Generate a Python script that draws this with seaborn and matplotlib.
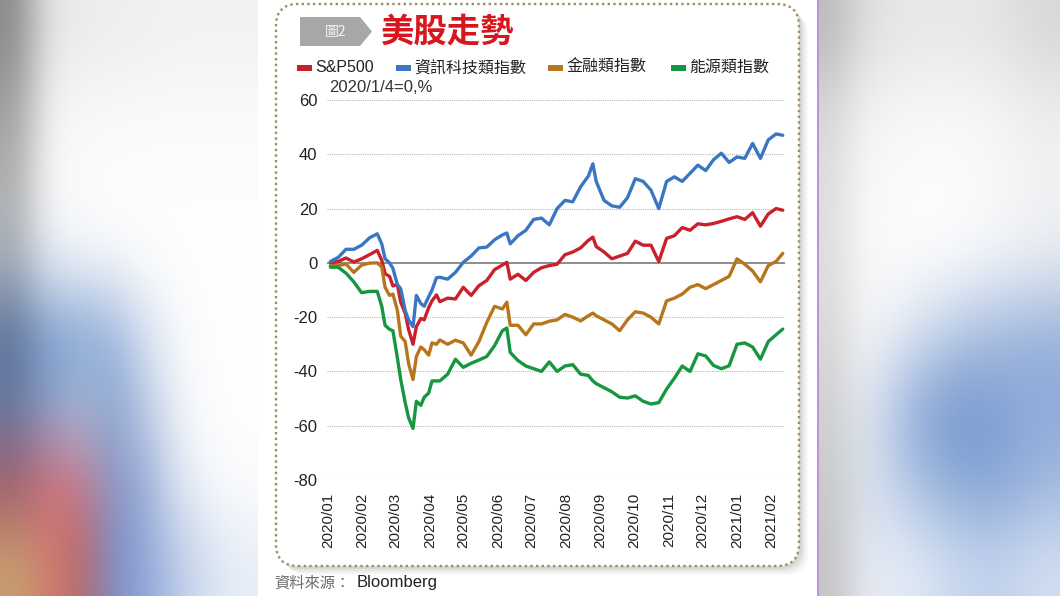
"""美股走勢 chart, recreated with seaborn."""
import matplotlib
matplotlib.use('Agg')
import matplotlib.pyplot as plt
import matplotlib.transforms as mtransforms
from matplotlib.colors import to_rgb
from matplotlib.patches import Rectangle, FancyBboxPatch, Polygon
import numpy as np
import pandas as pd
import seaborn as sns

W, H = 1060, 596

# weekly readings (extra points around the March crash)
dates = ['2020-01-03', '2020-01-10', '2020-01-17', '2020-01-24', '2020-01-31',
         '2020-02-07', '2020-02-14', '2020-02-18', '2020-02-21', '2020-02-25', '2020-02-28',
         '2020-03-03', '2020-03-06', '2020-03-10', '2020-03-13', '2020-03-17', '2020-03-20',
         '2020-03-24', '2020-03-27', '2020-03-31',
         '2020-04-03', '2020-04-07', '2020-04-10', '2020-04-17', '2020-04-24',
         '2020-05-01', '2020-05-08', '2020-05-15', '2020-05-22', '2020-05-29',
         '2020-06-05', '2020-06-09', '2020-06-12', '2020-06-19', '2020-06-26',
         '2020-07-03', '2020-07-10', '2020-07-17', '2020-07-24', '2020-07-31',
         '2020-08-07', '2020-08-14', '2020-08-21', '2020-08-25', '2020-08-28',
         '2020-09-04', '2020-09-11', '2020-09-18', '2020-09-25',
         '2020-10-02', '2020-10-09', '2020-10-16', '2020-10-23', '2020-10-30',
         '2020-11-06', '2020-11-13', '2020-11-20', '2020-11-27',
         '2020-12-04', '2020-12-11', '2020-12-18', '2020-12-25',
         '2021-01-01', '2021-01-08', '2021-01-15', '2021-01-22', '2021-01-29',
         '2021-02-05', '2021-02-11']

sp500 = [0, 0.5, 1.8, 0.3, 1.5,
         3, 4.6, 1, -4, -5, -8.5,
         -8, -14.5, -18.5, -24.5, -30, -23.5, -20.5, -21, -16.5,
         -14, -11.8, -14.3, -13, -13.3,
         -9, -12, -8.4, -6.5, -2.5,
         -0.8, 0.2, -6, -4.2, -6.5,
         -3.5, -1.8, -1, -0.5, 3,
         4, 5.5, 8.3, 9.5, 6,
         4, 1.5, 2.5, 3.5,
         8, 6.5, 6.5, 0.5, 9,
         10, 13, 12, 14.4,
         14, 14.5, 15.3, 16.2,
         17, 16, 18.5, 13.5, 18,
         20, 19.4]

tech = [0.5, 2, 5, 5, 6.5,
        9.2, 10.7, 7, 1.5, 0, -2,
        -8, -9.5, -17.6, -21, -23.5, -12, -15, -16, -12.5,
        -10, -5.5, -5.3, -6, -3.5,
        0.2, 2.5, 5.5, 5.8, 8.5,
        10.3, 11, 7, 10, 12,
        16, 16.5, 14, 20, 23,
        22.5, 28, 32, 36.5, 30,
        23, 21, 20.5, 24,
        31, 30, 26.8, 20, 30,
        31.7, 30, 33, 36,
        34, 38, 40.4, 37,
        39, 38.5, 44, 38.5, 45.3,
        47.5, 47]

finance = [-1, -1, -0.4, -3.5, -0.8,
           -0.1, 0, -1.5, -9, -12, -11.5,
           -17.5, -27, -29, -37, -43, -34.5, -31, -32, -34,
           -29.5, -30, -28.4, -30, -28.5,
           -29.5, -34, -29, -22, -16,
           -17, -14.5, -23, -23, -26.5,
           -22.5, -22.5, -21.5, -21, -19,
           -20, -21.4, -19.5, -18.5, -19.5,
           -21, -22.5, -25, -21,
           -18, -18.5, -20, -22.5, -14,
           -13, -11.5, -9, -8,
           -9.5, -8, -6.5, -5,
           1.5, -0.5, -3, -7, -1,
           0.5, 3.5]

energy = [-1.6, -1.6, -3.8, -7, -11,
          -10.5, -10.5, -16, -23, -24.5, -25,
          -35, -43, -51.5, -57, -61, -51, -52.5, -49.5, -48,
          -43.5, -43.5, -43.5, -41, -35.5,
          -38.5, -37, -35.8, -34.5, -30.5,
          -25, -24, -33, -36, -38,
          -39, -40, -36.5, -40, -38,
          -37.5, -41, -41.5, -43.5, -44.5,
          -46, -47.5, -49.5, -49.8,
          -49, -51, -52, -51.5, -46.5,
          -42.5, -38, -40, -33.5,
          -34.3, -37.8, -39, -37.9,
          -30, -29.5, -31, -35.5, -29,
          -26.5, -24.4]

series_names = ['S&P500', '資訊科技類指數', '金融類指數', '能源類指數']
series_colors = ['#c9202b', '#3b76c2', '#b8761c', '#16973f']
y_ticks = [-80, -60, -40, -20, 0, 20, 40, 60]
month_ticks = pd.date_range('2020-01-01', '2021-02-01', freq='MS')
tick_labels = [d.strftime('%Y/%m') for d in month_ticks]

# blurred photo behind the graphic (left / right strips)
left_bg = [['#8a8a8a', '#e4e4e4', '#ececec', '#eeeeee', '#f0f0f0', '#f2f2f2', '#f2f2f2', '#f2f2f2'],
           ['#a0a0a0', '#f4f4f4', '#f8f8f8', '#f9f9f9', '#fafafa', '#fafafa', '#fafafa', '#fafafa'],
           ['#b0b0b0', '#f8f8f8', '#fcfcfc', '#fdfdfd', '#fdfdfd', '#fdfdfd', '#fdfdfd', '#fdfdfd'],
           ['#a8b0bc', '#e8edf4', '#f2f5fa', '#f8f9fb', '#fdfdfd', '#fefefe', '#fefefe', '#fefefe'],
           ['#5a7098', '#7b9ccc', '#86a6d4', '#9ab4dc', '#d4e0f0', '#f6f8fb', '#fefefe', '#fefefe'],
           ['#6a7ca4', '#8aa4cc', '#a8bcdc', '#8ca8d2', '#b8c8e4', '#eef2f8', '#fdfdfd', '#fefefe'],
           ['#a05868', '#d06a78', '#c87888', '#8c94c4', '#98acd4', '#dce4f2', '#f6f8fb', '#fcfcfd'],
           ['#c8a070', '#d08070', '#b86868', '#7c8cc4', '#90a8d8', '#b8c8e6', '#d8e2f2', '#e8eef8']]
right_bg = [['#bcbcbc', '#dcdcdc', '#e6e6e6', '#e8e8e8', '#e8e8e8', '#e6e6e6', '#e0e0e0', '#d8d8d8'],
            ['#d8d8d8', '#f2f2f2', '#f6f6f6', '#f8f8f8', '#f8f8f8', '#f6f6f6', '#f2f2f2', '#eeeeee'],
            ['#dedede', '#f8f8f8', '#fbfbfb', '#fcfcfc', '#fcfcfc', '#fafafa', '#f6f6f6', '#f2f2f2'],
            ['#dedede', '#f8f8f8', '#fbfbfb', '#fcfcfc', '#fafbfc', '#f4f6f9', '#eef1f6', '#e8ecf3'],
            ['#d8d8d8', '#f2f3f5', '#e8edf5', '#d0dcee', '#b8cbe6', '#a8bee0', '#a0b8de', '#98b2da'],
            ['#d0d0d0', '#e0e6f0', '#b4c6e4', '#88a6d6', '#7898cc', '#7a9ad0', '#86a4d6', '#8eaad8'],
            ['#cacaca', '#d8e0ec', '#c4d2ea', '#a4bce0', '#8eacd8', '#88a6d6', '#90acd8', '#a0b8de'],
            ['#c4c4c4', '#e4e8f0', '#e6ecf6', '#dce6f4', '#ccdaf0', '#c4d4ee', '#c8d6ee', '#d2def2']]

sns.set_theme(style='white')
plt.rcParams['font.family'] = ['Liberation Sans', 'Noto Sans CJK TC', 'DejaVu Sans']
plt.rcParams['axes.unicode_minus'] = False

fig = plt.figure(figsize=(W / 100, H / 100), dpi=100)
fig.patch.set_facecolor('#f4f4f4')
px = mtransforms.IdentityTransform()


def fx(x):
    return x / W


def fy(y):
    return 1 - y / H


for arr, rect in ((left_bg, [0, 0, 258 / W, 1]), (right_bg, [818 / W, 0, 242 / W, 1])):
    bg = fig.add_axes(rect, zorder=0)
    bg.imshow(np.array([[to_rgb(c) for c in row] for row in arr]),
              aspect='auto', interpolation='bicubic')
    bg.axis('off')

# white page, purple edge, shadow and dotted rounded frame
fig.patches.append(Rectangle((258, 0), 560, H, transform=px, facecolor='white',
                             edgecolor='none', zorder=1))
fig.patches.append(Rectangle((817, 0), 1.5, H, transform=px, facecolor='#c58ee0',
                             edgecolor='none', zorder=1))
for off, a in ((9, 0.05), (7, 0.07), (5, 0.09), (3, 0.12)):
    fig.patches.append(FancyBboxPatch((276 + off, H - 566 - off), 523, 562,
                                      boxstyle='round,pad=0,rounding_size=22',
                                      transform=px, facecolor='#808080', alpha=a,
                                      edgecolor='none', zorder=1.1))
fig.patches.append(FancyBboxPatch((276, H - 566), 523, 562,
                                  boxstyle='round,pad=0,rounding_size=22',
                                  transform=px, facecolor='white', edgecolor='#a08c5c',
                                  linestyle=(0, (1, 1.4)), linewidth=1.7, zorder=1.2))

# title tag
fig.patches.append(Polygon([(300, H - 17), (360, H - 17), (372, H - 31.5),
                            (360, H - 46), (300, H - 46)], closed=True, transform=px,
                           facecolor='#a7a7a7', edgecolor='none', zorder=3))
fig.text(fx(336), fy(32), '圖2', fontsize=10, color='#f4f4f4', ha='center', va='center',
         family=['Noto Sans CJK TC'], zorder=4)
fig.text(fx(380), fy(32), '美股走勢', fontsize=24, fontweight='bold', color='#d7161d',
         ha='left', va='center', family=['Noto Sans CJK TC'], zorder=4)

# legend
legend_x = [297, 396, 548, 671]
for name, color, lx in zip(series_names, series_colors, legend_x):
    fig.patches.append(Rectangle((lx, H - 71), 15, 6.5, transform=px, facecolor=color,
                                 edgecolor='none', zorder=3))
    fig.text(fx(lx + 18), fy(67.5), name, fontsize=11.5, color='#222222',
             ha='left', va='center', zorder=4)

fig.text(fx(329), fy(88), '2020/1/4=0,%', fontsize=12, color='#333333',
         ha='left', va='center', zorder=4)

# main chart
frames = []
for name, vals in zip(series_names, [sp500, tech, finance, energy]):
    frames.append(pd.DataFrame({'date': pd.to_datetime(dates), 'value': vals,
                                'series': name}))
df = pd.concat(frames, ignore_index=True)

ax = fig.add_axes([fx(327), fy(480), 458 / W, 380 / H], zorder=5)
ax.set_facecolor('none')
ax.set_ylim(-80, 60)
ax.set_xlim(pd.Timestamp('2019-12-31'), pd.Timestamp('2021-02-13'))
for y in y_ticks:
    if y != 0:
        ax.axhline(y, color='#b8b8b8', linestyle=(0, (1, 1)), linewidth=0.8, zorder=1)
ax.axhline(0, color='#7a7a7a', linewidth=1.2, zorder=1)

sns.lineplot(data=df, x='date', y='value', hue='series', hue_order=series_names,
             palette=dict(zip(series_names, series_colors)), linewidth=2.4,
             legend=False, ax=ax, zorder=3)

ax.set_yticks(y_ticks)
ax.set_yticklabels([str(v) for v in y_ticks], fontsize=12, color='#222222')
ax.set_xticks(month_ticks)
ax.set_xticklabels(tick_labels, rotation=90, fontsize=11, color='#222222')
ax.tick_params(axis='y', length=0, pad=7)
ax.tick_params(axis='x', direction='inout', length=5, width=0.8, color='#999999', pad=7)
ax.set_xlabel('')
ax.set_ylabel('')
for s in ax.spines.values():
    s.set_visible(False)

# source
fig.text(fx(274), fy(583), '資料來源：', fontsize=11, color='#6a6a6a', ha='left',
         va='center', family=['Noto Sans CJK TC'], zorder=4)
fig.text(fx(357), fy(583), 'Bloomberg', fontsize=12, color='#222222', ha='left',
         va='center', zorder=4)

fig.savefig('out.png', dpi=100)
